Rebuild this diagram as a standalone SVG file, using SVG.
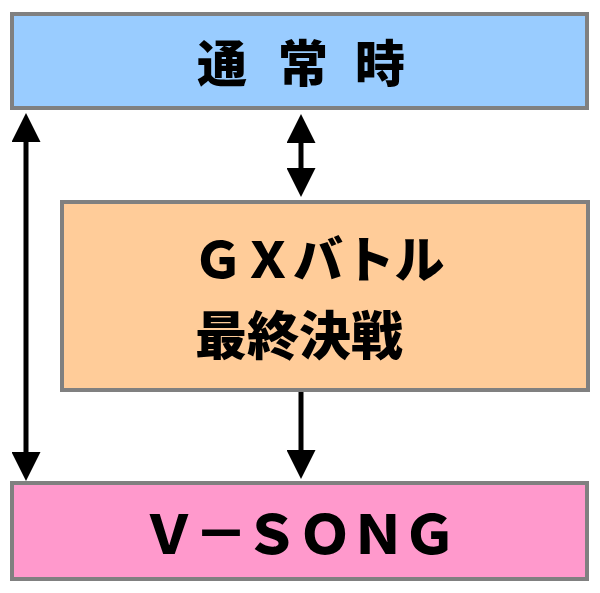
<svg xmlns="http://www.w3.org/2000/svg" width="600" height="593" viewBox="0 0 600 593">
  <style>
    .box { stroke: #808080; stroke-width: 4; }
    .lbl { font-family: "Noto Sans CJK JP", "Liberation Sans", sans-serif; font-weight: 900; fill: #000000; }
    .conn { stroke: #000000; stroke-width: 5; fill: none; }
  </style>
  <defs>
    <marker id="head" viewBox="0 0 29 29" markerWidth="29" markerHeight="29" refX="2" refY="14.5" markerUnits="userSpaceOnUse" orient="auto-start-reverse">
      <path d="M0,0 L29,14.5 L0,29 Z" fill="#000000"/>
    </marker>
  </defs>
  <rect x="0" y="0" width="600" height="593" fill="#ffffff"/>
  <g id="node-normal">
    <rect class="box" x="12" y="14" width="575" height="94" fill="#99CCFF"/>
    <text class="lbl" font-size="50" text-anchor="middle" x="222 303 380" y="82">通常時</text>
  </g>
  <g id="node-gx">
    <rect class="box" x="62" y="202" width="526" height="188" fill="#FFCC99"/>
    <text class="lbl" font-size="50" x="193" y="278">ＧＸバトル</text>
    <text class="lbl" font-size="52" x="195" y="355">最終決戦</text>
  </g>
  <g id="node-vsong">
    <rect class="box" x="12" y="483" width="575" height="96" fill="#FF99CC"/>
    <text class="lbl" font-size="54" font-weight="700" text-anchor="middle" x="169 221 271.5 325 378 429.5" y="554">Ｖ－ＳＯＮＧ</text>
  </g>
  <g id="connectors">
    <line class="conn" x1="26" y1="140" x2="26" y2="454" marker-start="url(#head)" marker-end="url(#head)"/>
    <line class="conn" x1="301" y1="141" x2="301" y2="170" marker-start="url(#head)" marker-end="url(#head)"/>
    <line class="conn" x1="301" y1="392" x2="301" y2="452" marker-end="url(#head)"/>
  </g>
</svg>
